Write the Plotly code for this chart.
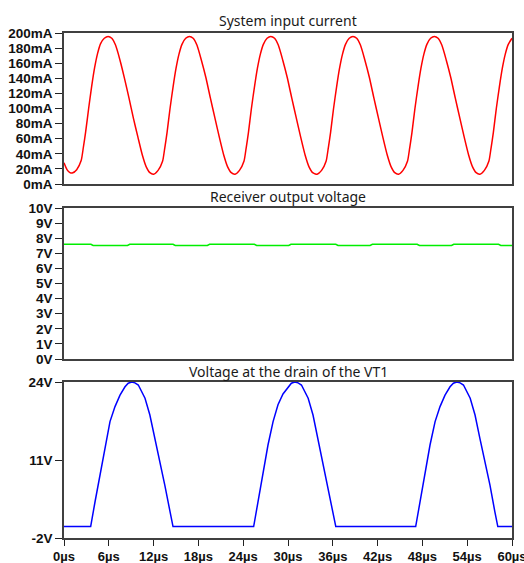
import plotly.graph_objects as go

# ---------------- data ----------------
# System input current (mA) vs time (µs)
cur_t = [0.0, 0.4, 0.8,
         1.1, 1.7, 2.3, 2.6, 2.9, 3.3, 3.7, 4.1, 4.5, 4.9, 5.4, 5.9, 6.4, 6.9, 7.5, 8.1, 8.7, 9.3, 9.9, 10.5, 11.0, 11.5,
         12.0, 12.6, 13.2, 13.5, 13.8, 14.2, 14.6, 15.0, 15.4, 15.8, 16.3, 16.8, 17.3, 17.8, 18.4, 19.0, 19.6, 20.2, 20.8, 21.4, 21.9, 22.4,
         22.9, 23.5, 24.1, 24.4, 24.7, 25.1, 25.5, 25.9, 26.3, 26.7, 27.2, 27.7, 28.2, 28.7, 29.3, 29.9, 30.5, 31.1, 31.7, 32.3, 32.8, 33.3,
         33.9, 34.5, 35.1, 35.4, 35.7, 36.1, 36.5, 36.9, 37.3, 37.7, 38.2, 38.7, 39.2, 39.7, 40.3, 40.9, 41.5, 42.1, 42.7, 43.3, 43.8, 44.3,
         44.8, 45.4, 46.0, 46.3, 46.6, 47.0, 47.4, 47.8, 48.2, 48.6, 49.1, 49.6, 50.1, 50.6, 51.2, 51.8, 52.4, 53.0, 53.6, 54.2, 54.7, 55.2,
         55.7, 56.3, 56.9, 57.2, 57.5, 57.9, 58.3, 58.7, 59.1, 59.5, 60.0]
cur_mA = [28, 19, 15,
          14.5, 19, 31, 49, 69, 100, 129, 154, 173, 186, 193, 195.5, 193, 184, 164, 140, 114, 87, 62, 38, 23, 15,
          13, 18, 30, 48, 68, 100, 128, 153, 172, 185, 193, 195.5, 193, 184, 164, 141, 114, 88, 62, 38, 23, 15,
          13, 18, 30, 48, 68, 100, 128, 153, 172, 185, 193, 195.5, 193, 184, 164, 141, 114, 88, 62, 38, 23, 15,
          13, 18, 30, 48, 68, 100, 128, 153, 172, 185, 193, 195.5, 193, 184, 164, 141, 114, 88, 62, 38, 23, 15,
          13, 18, 30, 48, 68, 100, 128, 153, 172, 185, 193, 195.5, 193, 184, 164, 141, 114, 88, 62, 38, 23, 15,
          13, 18, 30, 48, 68, 100, 128, 153, 172, 185, 193]

# Receiver output voltage (V)
rx_t = [0.0, 3.6, 3.9, 8.5, 8.8, 14.6, 14.9, 19.2, 19.5, 25.5, 25.8, 30.1, 30.4, 36.4, 36.7,
        41.0, 41.3, 47.3, 47.6, 51.9, 52.2, 58.2, 58.5, 60.0]
rx_V = [7.6, 7.6, 7.52, 7.52, 7.6, 7.6, 7.52, 7.52, 7.6, 7.6, 7.52, 7.52, 7.6, 7.6, 7.52,
        7.52, 7.6, 7.6, 7.52, 7.52, 7.6, 7.6, 7.52, 7.52]

# Voltage at the drain of VT1 (V)
vd_t = [0.0, 3.57, 4.15, 4.82, 5.49, 6.16, 6.83, 7.5, 8.17, 8.6, 9.06, 9.5, 9.95, 10.85, 11.5, 12.19, 12.85, 13.5, 14.2, 14.6,
        25.4, 25.98, 26.65, 27.32, 28.0, 28.66, 29.33, 30.0, 30.45, 30.9, 31.35, 31.8, 32.7, 33.35, 34.0, 34.7, 35.35, 36.0, 36.4,
        47.1, 47.68, 48.35, 49.02, 49.7, 50.36, 51.03, 51.7, 52.15, 52.6, 53.05, 53.5, 54.4, 55.05, 55.7, 56.4, 57.05, 57.7, 58.1,
        60.0]
vd_V = [-0.1, -0.1, 4.0, 8.5, 13.5, 17.4, 19.9, 21.8, 23.2, 23.8, 24.0, 23.85, 23.5, 21.3, 18.5, 14.6, 10.7, 6.8, 2.4, -0.1,
        -0.1, 4.0, 8.5, 13.5, 17.4, 20.2, 22.0, 23.2, 23.8, 24.0, 23.85, 23.5, 21.3, 18.5, 14.6, 10.7, 6.8, 2.4, -0.1,
        -0.1, 4.0, 8.5, 13.5, 17.4, 19.9, 21.8, 23.2, 23.8, 24.0, 23.85, 23.5, 21.3, 18.5, 14.6, 10.7, 6.8, 2.4, -0.1,
        -0.1]

# tick labels
x_ticks = [0, 6, 12, 18, 24, 30, 36, 42, 48, 54, 60]
x_labels = [f"{v}µs" for v in x_ticks]
cur_ticks = [0, 20, 40, 60, 80, 100, 120, 140, 160, 180, 200]
cur_labels = [f"{v}mA" for v in cur_ticks]
rx_ticks = [0, 1, 2, 3, 4, 5, 6, 7, 8, 9, 10]
rx_labels = [f"{v}V" for v in rx_ticks]
vd_ticks = [-2, 11, 24]
vd_labels = [f"{v}V" for v in vd_ticks]

titles = ["System input current", "Receiver output voltage", "Voltage at the drain of the VT1"]

# ---------------- figure ----------------
W, H = 524, 563
x0, x1 = 64 / W, 512 / W

def ydom(top, bottom):
    return [(H - bottom) / H, (H - top) / H]

d1 = ydom(33, 184)
d2 = ydom(208, 359)
d3 = ydom(382, 538)

fig = go.Figure()
fig.add_trace(go.Scatter(x=cur_t, y=cur_mA, mode="lines", line=dict(color="#ff0000", width=1.5, shape="spline", smoothing=0.6),
                         xaxis="x", yaxis="y", showlegend=False))
fig.add_trace(go.Scatter(x=rx_t, y=rx_V, mode="lines", line=dict(color="#00ee00", width=1.5),
                         xaxis="x2", yaxis="y2", showlegend=False))
fig.add_trace(go.Scatter(x=vd_t, y=vd_V, mode="lines", line=dict(color="#0000ff", width=1.5),
                         xaxis="x3", yaxis="y3", showlegend=False))

tick_font = dict(family="Liberation Sans, Arial, sans-serif", size=13.5, color="#111111", weight="bold")
xtick_font = dict(family="Liberation Sans, Arial, sans-serif", size=13, color="#111111", weight="bold")
line_col = "#404040"

common_x = dict(range=[0, 60], domain=[x0, x1], showgrid=False, zeroline=False, showline=True,
                linecolor=line_col, linewidth=1.5, mirror=True, fixedrange=True, automargin=False)
common_y = dict(showgrid=False, zeroline=False, showline=True, linecolor=line_col, linewidth=1.5,
                mirror=True, ticks="outside", ticklen=7, tickwidth=1.2, tickcolor="#222222",
                tickfont=tick_font, fixedrange=True, automargin=False)

fig.update_layout(
    template="none",
    width=W, height=H, margin=dict(l=0, r=0, t=0, b=0, pad=0), autosize=False,
    paper_bgcolor="white", plot_bgcolor="white",
    xaxis=dict(common_x, anchor="y", showticklabels=False, ticks=""),
    xaxis2=dict(common_x, anchor="y2", showticklabels=False, ticks=""),
    xaxis3=dict(common_x, anchor="y3", tickmode="array", tickvals=x_ticks, ticktext=x_labels,
                ticks="outside", ticklen=6, tickwidth=1.2, tickcolor="#222222", tickfont=xtick_font,
                ticklabeloverflow="allow"),
    yaxis=dict(common_y, domain=d1, anchor="x", range=[0, 200], tickmode="array",
               tickvals=cur_ticks, ticktext=cur_labels),
    yaxis2=dict(common_y, domain=d2, anchor="x2", range=[0, 10], tickmode="array",
                tickvals=rx_ticks, ticktext=rx_labels),
    yaxis3=dict(common_y, domain=d3, anchor="x3", range=[-2, 24], tickmode="array",
                tickvals=vd_ticks, ticktext=vd_labels),
)

title_y = [20.5, 196, 371.5]
for txt, yy in zip(titles, title_y):
    fig.add_annotation(text=txt, x=(x0 + x1) / 2, y=(H - yy) / H, xref="paper", yref="paper",
                       showarrow=False, xanchor="center", yanchor="middle",
                       font=dict(family="Noto Sans, Open Sans, sans-serif", size=14, color="#1a1a1a"))

fig.write_html("out.html", config={"displayModeBar": False},
               post_script="document.body.style.margin='0px';document.body.style.overflow='hidden';")
